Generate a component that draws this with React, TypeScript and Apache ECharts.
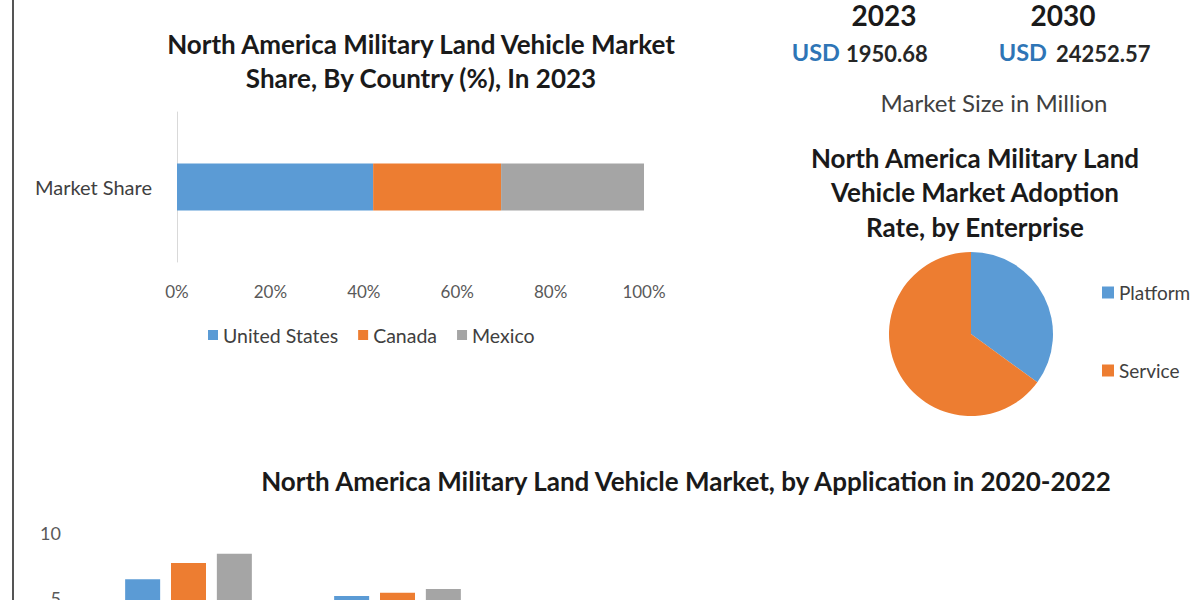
import React, { useEffect, useRef } from "react";
import * as echarts from "echarts";

const shareCategories = ["Market Share"];
const shareSeries = ["United States", "Canada", "Mexico"];
const shareValues = [42.0, 27.4, 30.6];

const adoptionNames = ["Platform", "Service"];
const adoptionValues = [35, 65];

const appCategories = ["Application A", "Application B"];
const appYears = ["2020", "2021", "2022"];
const appValues2020 = [6.45, 5.15];
const appValues2021 = [7.7, 5.4];
const appValues2022 = [8.4, 5.7];

const kpiYears = ["2023", "2030"];
const kpiValues = ["1950.68", "24252.57"];

const BLUE = "#5b9bd5";
const ORANGE = "#ed7d31";
const GRAY = "#a5a5a5";
const FONT = "Lato, 'Open Sans', sans-serif";

export default function App() {
  const ref = useRef<HTMLDivElement>(null);
  useEffect(() => {
    if (!ref.current) return;
    const chart = echarts.init(ref.current, null, { renderer: "svg" });
    const colors = [BLUE, ORANGE, GRAY];
    const appData = [appValues2020, appValues2021, appValues2022];
    const txt = (text: string, x: number, y: number, font: string, fill: string, align = "center", lineHeight?: number) => ({
      type: "text",
      x,
      y,
      style: { text, font, fill, align, verticalAlign: "middle", lineHeight },
      silent: true,
    });
    chart.setOption({
      animation: false,
      backgroundColor: "#ffffff",
      textStyle: { fontFamily: FONT },
      grid: [
        { left: 177, top: 112, width: 467, height: 150 },
        { left: 84, top: 533, width: 418, height: 130 },
      ],
      xAxis: [
        {
          type: "value",
          gridIndex: 0,
          min: 0,
          max: 100,
          interval: 20,
          axisLine: { show: false },
          axisTick: { show: false },
          splitLine: { show: false },
          axisLabel: { formatter: "{value}%", fontSize: 17, color: "#595959", margin: 21, fontFamily: FONT },
        },
        {
          type: "category",
          gridIndex: 1,
          data: appCategories,
          axisLine: { show: false },
          axisTick: { show: false },
          axisLabel: { show: false },
        },
      ],
      yAxis: [
        {
          type: "category",
          gridIndex: 0,
          data: shareCategories,
          axisLine: { show: true, lineStyle: { color: "#d9d9d9", width: 1 } },
          axisTick: { show: false },
          axisLabel: { fontSize: 20, color: "#404040", margin: 25, fontFamily: FONT },
        },
        {
          type: "value",
          gridIndex: 1,
          min: 0,
          max: 10,
          interval: 5,
          axisLine: { show: false },
          axisTick: { show: false },
          splitLine: { show: false },
          axisLabel: { fontSize: 18, color: "#595959", margin: 23, fontFamily: FONT },
        },
      ],
      legend: [
        {
          data: shareSeries,
          left: 203,
          top: 320,
          icon: "rect",
          itemWidth: 10,
          itemHeight: 10,
          itemGap: 20,
          textStyle: { fontSize: 19.5, color: "#404040", fontFamily: FONT },
        },
        {
          data: adoptionNames,
          orient: "vertical",
          left: 1097,
          top: 278,
          icon: "rect",
          itemWidth: 12,
          itemHeight: 12,
          itemGap: 59,
          textStyle: { fontSize: 19, color: "#404040", fontFamily: FONT },
        },
      ],
      series: [
        ...shareSeries.map((name, i) => ({
          type: "bar",
          name,
          stack: "share",
          xAxisIndex: 0,
          yAxisIndex: 0,
          barWidth: 47,
          itemStyle: { color: colors[i] },
          data: [shareValues[i]],
        })),
        {
          type: "pie",
          center: [971, 334],
          radius: 82,
          startAngle: 90,
          clockwise: true,
          label: { show: false },
          labelLine: { show: false },
          itemStyle: { borderWidth: 0 },
          data: adoptionNames.map((name, i) => ({
            name,
            value: adoptionValues[i],
            itemStyle: { color: i === 0 ? BLUE : ORANGE },
          })),
        },
        ...appYears.map((name, i) => ({
          type: "bar",
          name,
          xAxisIndex: 1,
          yAxisIndex: 1,
          barWidth: 35,
          barGap: "31%",
          itemStyle: { color: colors[i] },
          data: appData[i],
        })),
      ],
      graphic: [
        { type: "line", shape: { x1: 13, y1: 0, x2: 13, y2: 700 }, style: { stroke: "#555555", lineWidth: 2 }, silent: true },
        txt("North America Military Land Vehicle Market\nShare, By Country (%), In 2023", 421, 61, `bold 26px ${FONT}`, "#1a1a1a", "center", 34),
        txt(kpiYears[0], 884, 15, `bold 28px ${FONT}`, "#1a1a1a"),
        txt(kpiYears[1], 1063, 15, `bold 28px ${FONT}`, "#1a1a1a"),
        txt("USD", 840, 52, `bold 23.5px ${FONT}`, "#2e75b6", "right"),
        txt(kpiValues[0], 846, 53, `bold 22px ${FONT}`, "#262626", "left"),
        txt("USD", 1047, 52, `bold 23.5px ${FONT}`, "#2e75b6", "right"),
        txt(kpiValues[1], 1056, 53, `bold 22px ${FONT}`, "#262626", "left"),
        txt("Market Size in Million", 994, 102, `24px ${FONT}`, "#404040"),
        txt("North America Military Land\nVehicle Market Adoption\nRate, by Enterprise", 975, 192, `bold 26px ${FONT}`, "#1a1a1a", "center", 34.5),
        txt("North America Military Land Vehicle Market, by Application in 2020-2022", 686, 481, `bold 26px ${FONT}`, "#1a1a1a"),
      ],
    });
    return () => chart.dispose();
  }, []);
  return (
    <div style={{ position: "fixed", left: 0, top: 0, width: 1200, height: 600, overflow: "hidden", background: "#fff" }}>
      <div ref={ref} style={{ width: 1200, height: 700 }} />
    </div>
  );
}
